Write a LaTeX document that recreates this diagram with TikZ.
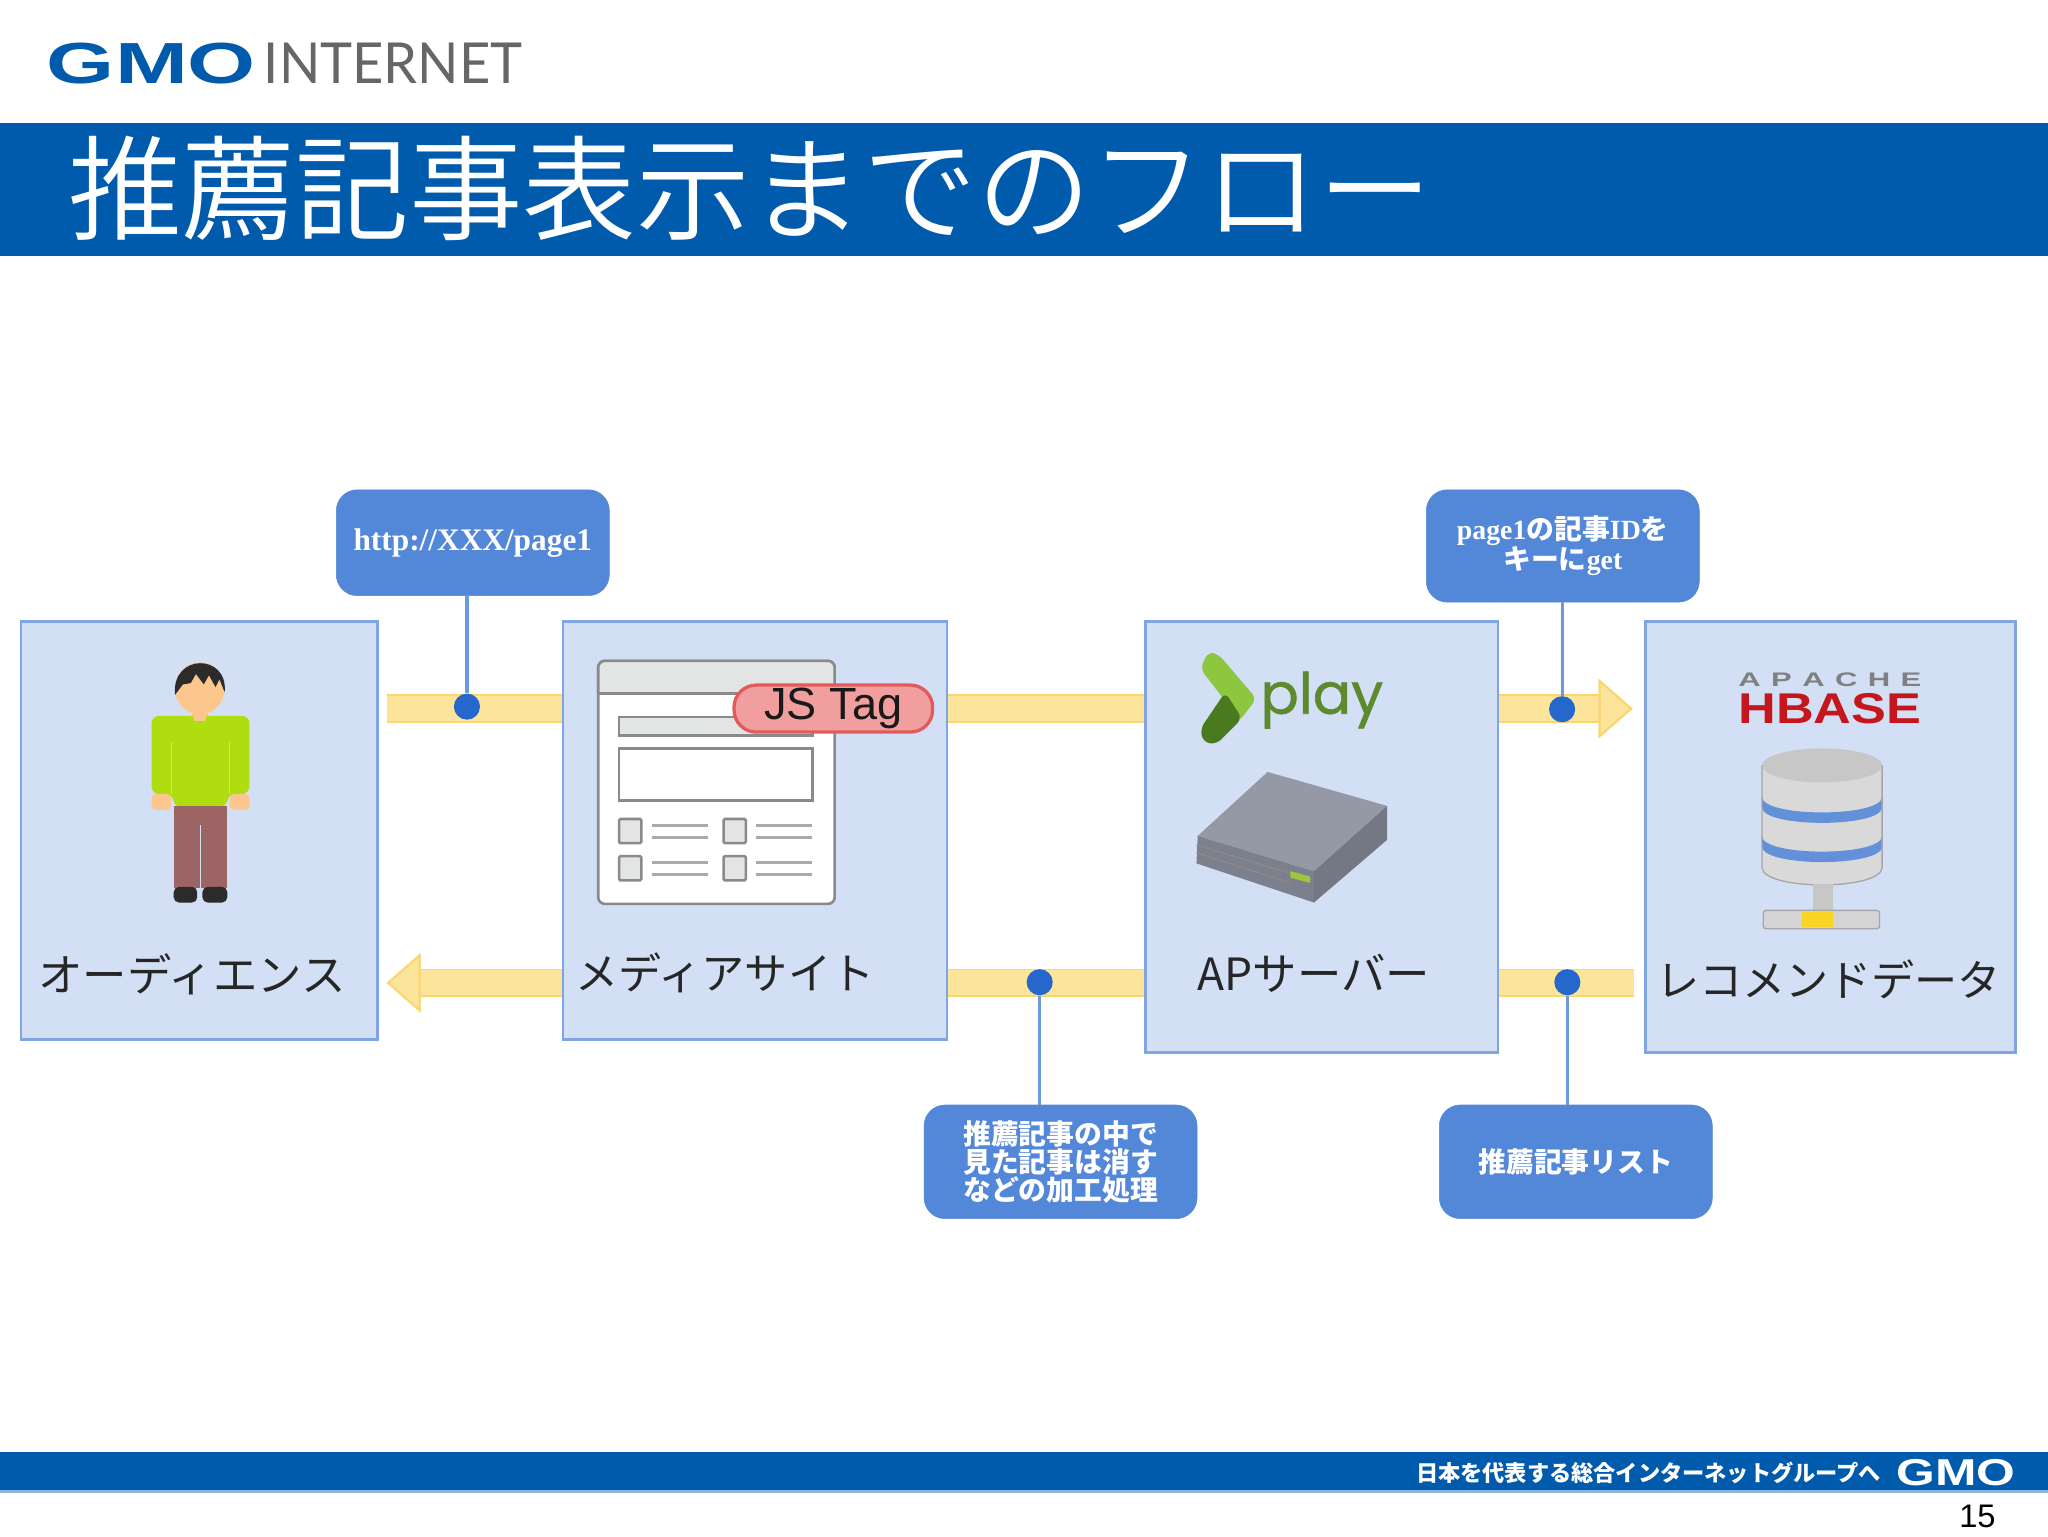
\documentclass[tikz,border=0pt]{standalone}
\usepackage{graphicx}
\usepackage{fontspec}
\usetikzlibrary{arrows.meta,backgrounds,calc}
\setmainfont{Liberation Sans}
\newfontfamily\cjk{Noto Sans CJK JP}
\newfontfamily\cjkl{Noto Sans CJK JP}[UprightFont={* DemiLight}]
\newfontfamily\serifb{Liberation Serif}[UprightFont={* Bold}]
\newfontfamily\thinf{Lato}
\newfontfamily\playf{Poppins}[FakeBold=1]
\definecolor{gmoblue}{HTML}{005BAC}
\definecolor{boxfill}{HTML}{D3DFF5}
\definecolor{boxedge}{HTML}{7FA5E2}
\definecolor{calfill}{HTML}{5387D8}
\definecolor{dotblue}{HTML}{2667CC}
\definecolor{bandfill}{HTML}{FDE49B}
\definecolor{bandedge}{HTML}{FAD66F}
\definecolor{iconedge}{HTML}{8A8A8A}
\definecolor{iconfill}{HTML}{E3E4E4}
\definecolor{iconline}{HTML}{ABABAB}
\definecolor{skin}{HTML}{FDC68C}
\definecolor{shirt}{HTML}{B0DD10}
\definecolor{pants}{HTML}{9C6464}
\definecolor{darkhair}{HTML}{2B2B2B}
\definecolor{playlight}{HTML}{8DC63F}
\definecolor{playdark}{HTML}{4A7A1E}
\definecolor{playtext}{HTML}{5E8A2E}
\definecolor{tagedge}{HTML}{E25B5B}
\definecolor{tagfill}{HTML}{F19E9E}
\definecolor{srvtop}{HTML}{9599A6}
\definecolor{srvfront}{HTML}{7C808C}
\definecolor{srvside}{HTML}{747884}
\definecolor{srvled}{HTML}{9FC53A}
\definecolor{hbred}{HTML}{C4161C}
\definecolor{dbyellow}{HTML}{F9D423}
\tikzset{
  box/.style={draw=boxedge,fill=boxfill,line width=2pt,inner sep=0pt},
  callout/.style={draw=calfill,fill=calfill,rounded corners=16pt,inner sep=0pt,minimum width=209pt,text=white,align=center,font=\fontsize{21.3}{21.5}\selectfont\cjk\bfseries},
  dot/.style={circle,fill=dotblue,draw=none,minimum size=20pt,inner sep=0pt},
  leader/.style={draw=calfill!85!white,line width=2.5pt},
  label/.style={inner sep=0pt,font=\fontsize{33}{33}\selectfont\cjk,text=black!85},
  bandO/.style={draw=bandedge,line width=22pt},
  bandI/.style={draw=bandfill,line width=19pt},
  ahead/.style={-{Triangle[length=26pt,width=45pt,line width=1.5pt,fill=bandfill,color=bandedge]}},
  iconbox/.style={draw=iconedge,line width=2pt},
  iconrule/.style={draw=iconline,line width=2.5pt},
  plain/.style={inner sep=0pt},
}
\begin{document}
\begin{tikzpicture}[x=1pt,y=-1pt]
\useasboundingbox (0,0) rectangle (1568,1176);

% header
\node[plain,text=gmoblue,font=\bfseries] (gmo) at (116,48.5) {\resizebox{160pt}{31pt}{GMO}};
\node[plain,text=black!60,font=\thinf] (inet) at (301,48.5) {\resizebox{198pt}{31pt}{INTERNET}};
\fill[gmoblue] (0,94) rectangle (1568,196);
\node[plain,anchor=west,text=white,font=\fontsize{87}{87}\selectfont\cjkl] (title) at (52,144) {推薦記事表示までのフロー};

% footer
\fill[gmoblue] (0,1112) rectangle (1568,1141);
\fill[gmoblue!45] (0,1141) rectangle (1568,1143);
\node[plain,anchor=west,text=white,font=\fontsize{17}{17}\selectfont\cjk\bfseries] (slogan) at (1084,1128) {日本を代表する総合インターネットグループへ};
\node[plain,text=white,font=\bfseries] (gmo2) at (1497.5,1127.5) {\resizebox{91pt}{20pt}{GMO}};
\node[plain,text=black,font=\fontsize{25}{25}\selectfont] (pagenum) at (1514,1161) {15};

% boxes
\node[box,minimum width=273pt,minimum height=320pt] (b1) at (152.5,636) {};
\node[box,minimum width=294pt,minimum height=320pt] (b2) at (578,636) {};
\node[box,minimum width=270pt,minimum height=330pt] (b3) at (1012,641) {};
\node[box,minimum width=283pt,minimum height=330pt] (b4) at (1401.5,641) {};

% labels
\node[label,font=\fontsize{34}{34}\selectfont\cjk] (l1) at (147,746) {オーディエンス};
\node[label] (l2) at (555,745) {メディアサイト};
\node[label,font=\fontsize{34}{34}\selectfont\cjk] (l3) at (1006,745) {APサーバー};
\node[label] (l4) at (1400,750) {レコメンドデータ};

% callouts
\node[callout,minimum height=81pt,font=\fontsize{24}{24}\selectfont\serifb] (c1) at (362,415.5) {http://XXX/page1};
\node[callout,minimum height=86pt] (c2) at (1196.5,418) {{\serifb page1}の記事{\serifb ID}を\\キーに{\serifb get}};
\node[callout,minimum height=87pt] (c3) at (812,889.5) {推薦記事の中で\\見た記事は消す\\などの加工処理};
\node[callout,minimum height=87pt] (c4) at (1206.5,889.5) {推薦記事リスト};

% dots and band anchors
\node[dot] (d1) at (357.5,541) {};
\node[dot] (d2) at (1196,543) {};
\node[dot] (d3) at (796,752) {};
\node[dot] (d4) at (1200,752) {};
\coordinate (t0) at ($(b1.east |- 0,542.5)+(6,0)$);
\coordinate (t1) at ($(b4.west |- 0,542.5)+(-9,0)$);
\coordinate (u0) at ($(b4.west |- 0,752.5)+(-8,0)$);
\coordinate (u1) at ($(b1.east |- 0,752.5)+(6,0)$);

\begin{scope}[on background layer]
  \fill[white] (0,0) rectangle (1568,1176);
  \draw[bandO,ahead] (t0) -- (t1);
  \draw[bandI,ahead] (t0) -- (t1);
  \draw[bandO,ahead] (u0) -- (u1);
  \draw[bandI,ahead] (u0) -- (u1);
\end{scope}

% leaders
\draw[leader] (c1.south -| d1) -- (d1);
\draw[leader] (d2 |- c2.south) -- (d2);
\draw[leader] (d3) -- (d3 |- c3.north);
\draw[leader] (d4) -- (d4 |- c4.north);

% person
\fill[skin] (153,527) ellipse [x radius=19,y radius=20];
\fill[skin] (147,540) rectangle (159,553);
\fill[shirt,rounded corners=6pt] (116,608) -- (116,548) -- (191,548) -- (191,608) -- (174,608) -- (174,618) -- (133,618) -- (133,608) -- cycle;
\fill[skin] (147,546) -- (159,546) -- (157,552) -- (149,552) -- cycle;
\draw[boxfill!70!shirt,line width=1pt] (131.5,568) -- (131.5,608) (175.5,568) -- (175.5,608);
\fill[skin,rounded corners=3pt] (116,608) rectangle (131,620);
\fill[skin,rounded corners=3pt] (176,608) rectangle (191,620);
\fill[pants] (133,617) rectangle (174,680);
\draw[boxfill,line width=1.5pt] (153.5,632) -- (153.5,680);
\fill[darkhair,rounded corners=4pt] (133,679) rectangle (151,691);
\fill[darkhair,rounded corners=4pt] (155,679) rectangle (174,691);
\fill[darkhair] (134,532) .. controls (131,500) and (175,500) .. (172,530) -- (168,520) -- (165,526) -- (160,517) -- (156,524) -- (150,516) -- (146,523) -- (140,524) -- cycle;

% page icon
\draw[iconbox,fill=white,rounded corners=5pt] (458,506) rectangle (639,692);
\draw[iconbox,fill=iconfill,rounded corners=5pt] (458,531) -- (458,506) -- (639,506) -- (639,531);
\draw[iconbox] (458,531) -- (639,531);
\draw[iconbox,fill=iconfill] (474,549) rectangle (622,563);
\draw[iconbox,fill=white] (474,573) rectangle (622,613);
\foreach \sx/\lx/\ly in {474/499/0,554/579/0,474/499/28.5,554/579/28.5}{
  \draw[iconbox,fill=iconfill,rounded corners=1pt] (\sx,627+\ly) rectangle (\sx+17,645.5+\ly);
  \draw[iconrule] (\lx,632+\ly) -- (\lx+43,632+\ly) (\lx,641+\ly) -- (\lx+43,641+\ly);
}
\node[draw=tagedge,line width=2.5pt,fill=tagfill,rounded corners=17pt,minimum width=152pt,minimum height=36pt,inner sep=0pt,text=black!90,font=\fontsize{34.5}{34.5}\selectfont] (jstag) at (638,542.5) {JS Tag};

% play logo
\fill[playlight,rounded corners=5pt] (919,512) -- (925,499) -- (933,501) -- (962,535) -- (948,553) -- (936,534) -- cycle;
\fill[playdark,rounded corners=5pt] (938,530) -- (951,550) -- (931,570) -- (921,568) -- (919,558) -- cycle;
\node[plain,text=playtext,font=\playf] (play) at (1012,536) {\resizebox{94pt}{!}{play}};

% server
\fill[srvtop] (917,640) -- (970.5,591) -- (1062,617) -- (1006,667) -- cycle;
\fill[srvfront] (917,640) -- (1006,667) -- (1006,691) -- (916,661) -- cycle;
\fill[srvside] (1006,667) -- (1062,617) -- (1062,643) -- (1006,691) -- cycle;
\draw[black!45,line width=.8pt] (916,647) -- (1006,674) (916,653) -- (988,676);
\fill[srvled] (988,667) -- (1003,671) -- (1003,676) -- (988,672) -- cycle;

% hbase logo
\node[plain,text=black!50,font=\bfseries] (apache) at (1401,520.5) {\resizebox{140pt}{10.5pt}{A\,\,P\,\,A\,\,C\,\,H\,\,E}};
\node[plain,text=hbred,font=\bfseries] (hbase) at (1401,542.5) {\resizebox{140pt}{23pt}{HBASE}};

% database icon
\fill[black!15] (1349,586) -- (1349,664) .. controls (1349,682) and (1441,682) .. (1441,664) -- (1441,586) -- cycle;
\fill[white!85!black] (1362,596) -- (1380,598) -- (1380,672) -- (1362,670) -- cycle;
\fill[dotblue!65!boxfill] (1349,610) .. controls (1349,626) and (1441,626) .. (1441,610) -- (1441,618) .. controls (1441,634) and (1349,634) .. (1349,618) -- cycle;
\fill[dotblue!65!boxfill] (1349,640) .. controls (1349,656) and (1441,656) .. (1441,640) -- (1441,648) .. controls (1441,664) and (1349,664) .. (1349,648) -- cycle;
\fill[black!22] (1395,586) ellipse [x radius=46,y radius=13];
\draw[black!35,line width=1pt] (1349,586) -- (1349,664) .. controls (1349,682) and (1441,682) .. (1441,664) -- (1441,586);
\fill[black!22] (1388,677) rectangle (1403,697);
\draw[black!35,fill=black!17,line width=1pt,rounded corners=2pt] (1350,697) rectangle (1439,711);
\fill[dbyellow] (1380,698) rectangle (1403,710);
\end{tikzpicture}
\end{document}
